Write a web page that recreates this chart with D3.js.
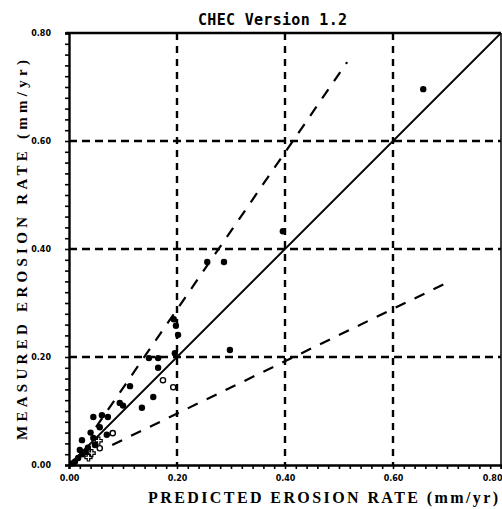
<!DOCTYPE html>
<html>
<head>
<meta charset="utf-8">
<script src="https://cdn.jsdelivr.net/npm/d3@7"></script>
<style>
  body { margin: 0; background: #fff; }
  svg { display: block; }
</style>
</head>
<body>
<div id="chart"></div>
<script>
// Measured vs predicted erosion rate (mm/yr)
const filledPts = [
    [0.656, 0.696], [0.396, 0.433], [0.256, 0.376], [0.287, 0.376],
    [0.298, 0.213], [0.194, 0.270], [0.198, 0.258], [0.202, 0.241],
    [0.196, 0.207], [0.148, 0.198], [0.165, 0.198], [0.165, 0.180],
    [0.113, 0.146], [0.156, 0.126], [0.135, 0.106], [0.094, 0.115],
    [0.100, 0.110], [0.045, 0.089], [0.061, 0.092], [0.072, 0.089],
    [0.057, 0.070], [0.070, 0.056], [0.045, 0.050], [0.024, 0.046],
    [0.048, 0.037], [0.020, 0.028], [0.030, 0.024], [0.017, 0.013],
    [0.011, 0.006], [0.035, 0.032], [0.025, 0.020], [0.040, 0.060],
    [0.006, 0.003]
];
const openPts = [[0.174, 0.157], [0.193, 0.144], [0.081, 0.059], [0.057, 0.031]];
const crossPts = [[0.042, 0.022], [0.036, 0.014], [0.055, 0.045]];

// reference lines
const lineEqual = [[0, 0], [0.8, 0.8]];
const lineUpper = [[0.05, 0.07], [0.515, 0.746]];
const lineLower = [[0.08, 0.037], [0.705, 0.34]];

const gridVals = [0.2, 0.4, 0.6];
const tickLabels = [0, 0.2, 0.4, 0.6, 0.8];

const svgWidth = 502, svgHeight = 509;
const margin = { top: 33, right: 1, bottom: 44, left: 69 };
const width = svgWidth - margin.left - margin.right;
const height = svgHeight - margin.top - margin.bottom;

const svg = d3.select('#chart')
    .append('svg')
    .attr('width', svgWidth)
    .attr('height', svgHeight);

const g = svg.append('g')
    .attr('transform', `translate(${margin.left},${margin.top})`);

const x = d3.scaleLinear().domain([0, 0.8]).range([0, width]);
const y = d3.scaleLinear().domain([0, 0.8]).range([height, 0]);

// Grid (dashed)
g.selectAll('.vgrid')
    .data(gridVals)
    .enter()
    .append('line')
    .attr('x1', d => x(d)).attr('x2', d => x(d))
    .attr('y1', 0).attr('y2', height)
    .attr('stroke', '#000')
    .attr('stroke-width', 2.4)
    .attr('stroke-dasharray', '7,6');
g.selectAll('.hgrid')
    .data(gridVals)
    .enter()
    .append('line')
    .attr('x1', 0).attr('x2', width)
    .attr('y1', d => y(d)).attr('y2', d => y(d))
    .attr('stroke', '#000')
    .attr('stroke-width', 2.4)
    .attr('stroke-dasharray', '8,5');

// Frame
g.append('line').attr('x1', -3).attr('x2', width).attr('y1', 0).attr('y2', 0)
    .attr('stroke', '#000').attr('stroke-width', 2.6);
g.append('line').attr('x1', width).attr('x2', width).attr('y1', 0).attr('y2', height)
    .attr('stroke', '#000').attr('stroke-width', 1.5);

// Axes with minor ticks every 0.02
const tickVals = d3.range(0, 41).map(i => i * 0.02);
const fmt = d => tickLabels.some(t => Math.abs(t - d) < 1e-6) ? d3.format('.2f')(d) : '';

const xAxis = g.append('g')
    .attr('transform', `translate(0,${height})`)
    .call(d3.axisBottom(x).tickValues(tickVals).tickFormat(fmt).tickSize(4).tickPadding(6));
const yAxis = g.append('g')
    .call(d3.axisLeft(y).tickValues(tickVals).tickFormat(fmt).tickSize(4).tickPadding(14));

[xAxis, yAxis].forEach(a => {
    a.select('.domain').attr('stroke-width', 2.4);
    a.selectAll('.tick line').attr('stroke-width', 1.6);
    a.selectAll('.tick text')
        .style('font-family', 'DejaVu Sans')
        .style('font-weight', 'bold')
        .style('font-size', '8px')
        .attr('fill', '#000');
});
// last x label sits at the window edge: keep it inside
xAxis.selectAll('.tick text')
    .filter(d => Math.abs(d - 0.8) < 1e-6)
    .attr('text-anchor', 'end')
    .attr('x', 1);

// Reference lines
const lineGen = d3.line().x(d => x(d[0])).y(d => y(d[1]));
g.append('path').datum(lineEqual).attr('d', lineGen)
    .attr('fill', 'none').attr('stroke', '#000').attr('stroke-width', 1.8);
g.append('path').datum(lineUpper).attr('d', lineGen)
    .attr('fill', 'none').attr('stroke', '#000').attr('stroke-width', 2.2)
    .attr('stroke-dasharray', '11,10');
g.append('path').datum(lineLower).attr('d', lineGen)
    .attr('fill', 'none').attr('stroke', '#000').attr('stroke-width', 2.2)
    .attr('stroke-dasharray', '11,10');

// Points
g.selectAll('.pt')
    .data(filledPts)
    .enter()
    .append('circle')
    .attr('cx', d => x(d[0]))
    .attr('cy', d => y(d[1]))
    .attr('r', 3.2)
    .attr('fill', '#000');
g.selectAll('.opt')
    .data(openPts)
    .enter()
    .append('circle')
    .attr('cx', d => x(d[0]))
    .attr('cy', d => y(d[1]))
    .attr('r', 2.6)
    .attr('fill', '#fff')
    .attr('stroke', '#000')
    .attr('stroke-width', 1.4);
const cross = d3.symbol().type(d3.symbolCross).size(28);
g.selectAll('.cpt')
    .data(crossPts)
    .enter()
    .append('path')
    .attr('d', cross)
    .attr('transform', d => `translate(${x(d[0])},${y(d[1])})`)
    .attr('fill', 'none')
    .attr('stroke', '#000')
    .attr('stroke-width', 1.2);

// Titles
svg.append('text')
    .attr('x', 198).attr('y', 25)
    .attr('textLength', 149)
    .style('font-family', 'DejaVu Sans Mono')
    .style('font-size', '15px')
    .style('font-weight', 'bold')
    .text('CHEC Version 1.2');

svg.append('text')
    .attr('x', 148).attr('y', 503)
    .attr('textLength', 350)
    .style('font-family', 'Liberation Serif')
    .style('font-size', '16px')
    .style('font-weight', 'bold')
    .text('PREDICTED EROSION RATE (mm/yr)');

svg.append('text')
    .attr('transform', 'translate(27,440) rotate(-90)')
    .attr('textLength', 380)
    .style('font-family', 'Liberation Serif')
    .style('font-size', '15px')
    .style('font-weight', 'bold')
    .text('MEASURED EROSION RATE (mm/yr)');
</script>
</body>
</html>
